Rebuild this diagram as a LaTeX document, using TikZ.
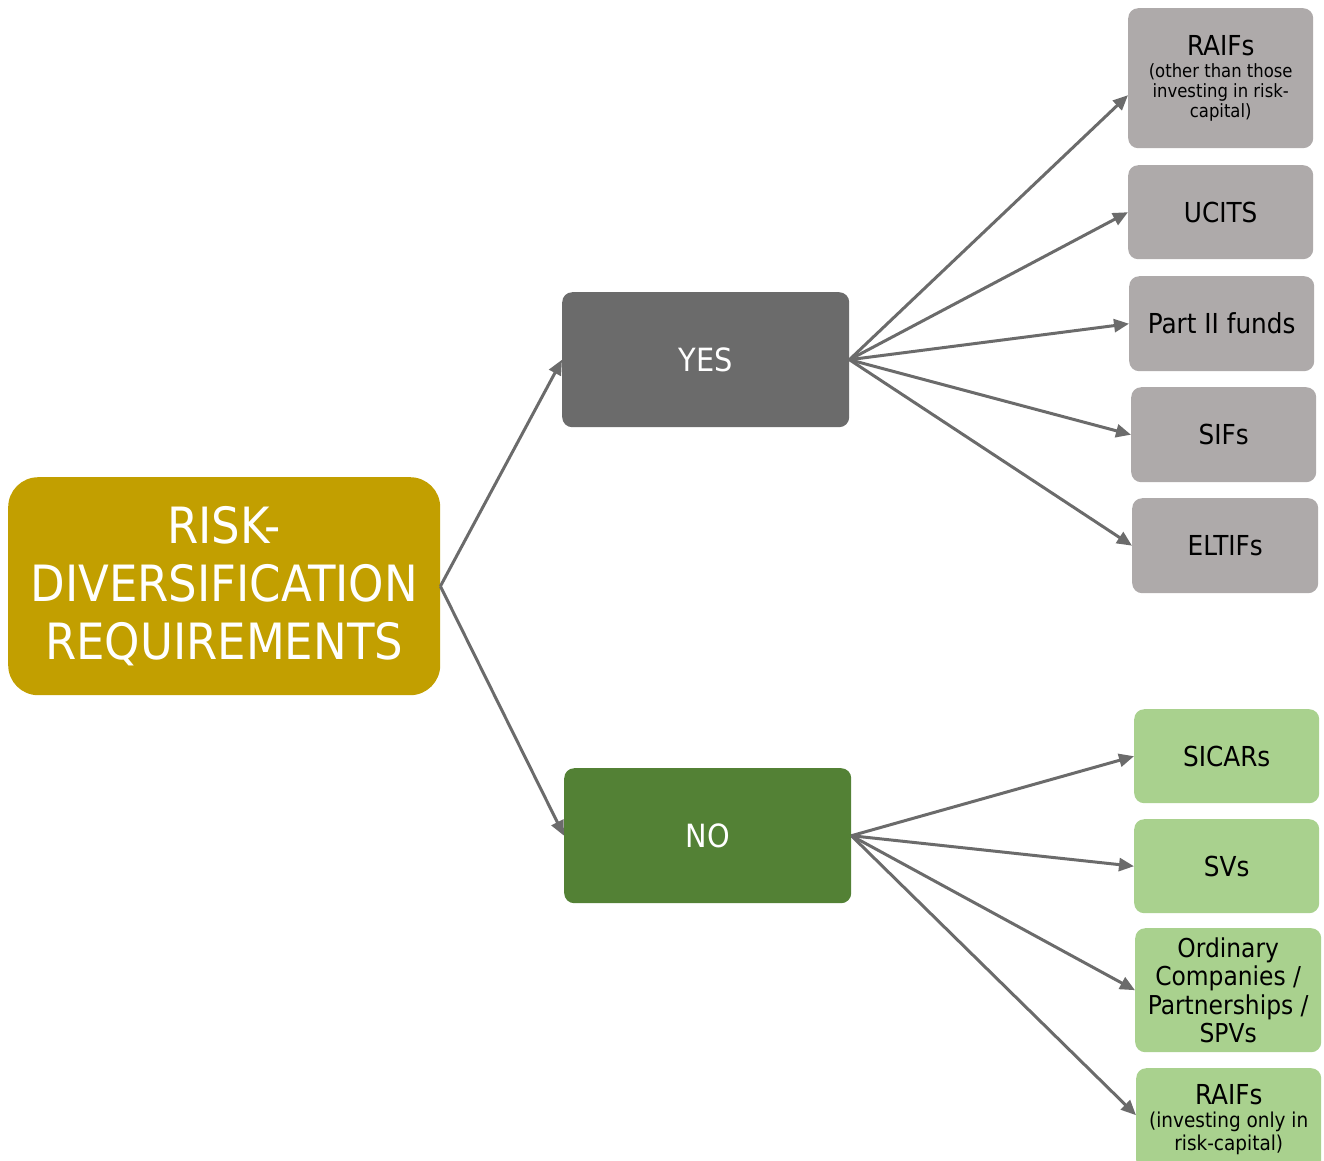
\documentclass[tikz,border=0pt]{standalone}
\usepackage{fontspec}
\setmainfont{DejaVu Sans Condensed}
\usetikzlibrary{arrows.meta}
\definecolor{rootc}{HTML}{C29F00}
\definecolor{yesc}{HTML}{6B6B6B}
\definecolor{noc}{HTML}{538135}
\definecolor{grayc}{HTML}{AEAAAA}
\definecolor{greenc}{HTML}{A9D18E}
\definecolor{arrc}{HTML}{6B6B6B}
\newcommand{\headfont}{\fontsize{27.5}{30}\selectfont}
\tikzset{
  box/.style={rectangle, rounded corners=10pt, inner sep=0pt, anchor=north west, align=center},
  graybox/.style={box, fill=grayc, text=black, font=\fontsize{27.5}{30}\selectfont},
  greenbox/.style={box, fill=greenc, text=black, font=\fontsize{27.5}{30}\selectfont},
  conn/.style={draw=arrc, line width=3pt, -{Triangle[length=15pt,width=13pt]}}
}
\begin{document}
\begin{tikzpicture}[x=1pt,y=-1pt]
\useasboundingbox (0,0) rectangle (1324,1160);
\node[box, fill=rootc, text=white, rounded corners=30pt, minimum width=432pt, minimum height=218pt, font=\fontsize{50}{58}\selectfont] (root) at (8,477) {RISK-\\DIVERSIFICATION\\REQUIREMENTS};
\node[box, fill=yesc, text=white, minimum width=287pt, minimum height=135pt, font=\fontsize{32}{36}\selectfont] (yes) at (562,292) {YES};
\node[box, fill=noc, text=white, minimum width=287pt, minimum height=135pt, font=\fontsize{32}{36}\selectfont] (no) at (564,768) {NO};
\node[graybox, minimum width=185pt, minimum height=140pt, font=\fontsize{18.3}{20}\selectfont] (r1) at (1128,8) {\headfont RAIFs\\[2pt](other than those\\investing in risk-\\capital)};
\node[graybox, minimum width=185pt, minimum height=94pt] (ucits) at (1128,165) {UCITS};
\node[graybox, minimum width=185pt, minimum height=95pt] (part) at (1129,276) {Part II funds};
\node[graybox, minimum width=185pt, minimum height=95pt] (sifs) at (1131,387) {SIFs};
\node[graybox, minimum width=186pt, minimum height=95pt] (eltifs) at (1132,498) {ELTIFs};
\node[greenbox, minimum width=185pt, minimum height=94pt] (sicars) at (1134,709) {SICARs};
\node[greenbox, minimum width=185pt, minimum height=94pt] (svs) at (1134,819) {SVs};
\node[greenbox, minimum width=186pt, minimum height=124pt, font=\fontsize{26}{28.5}\selectfont] (ord) at (1135,928) {Ordinary\\Companies /\\Partnerships /\\SPVs};
\node[greenbox, minimum width=185pt, minimum height=102pt, font=\fontsize{20.5}{23}\selectfont] (r2) at (1136,1068) {\headfont RAIFs\\[0pt](investing only in\\risk-capital)};
\draw[conn] (root.east) -- (yes.west);
\draw[conn] (root.east) -- (no.west);
\draw[conn] (yes.east) -- ([yshift=-17pt]r1.west);
\draw[conn] (yes.east) -- (ucits.west);
\draw[conn] (yes.east) -- (part.west);
\draw[conn] (yes.east) -- (sifs.west);
\draw[conn] (yes.east) -- (eltifs.west);
\draw[conn] (no.east) -- (sicars.west);
\draw[conn] (no.east) -- (svs.west);
\draw[conn] (no.east) -- (ord.west);
\draw[conn] (no.east) -- ([yshift=4pt]r2.west);
\end{tikzpicture}
\end{document}
